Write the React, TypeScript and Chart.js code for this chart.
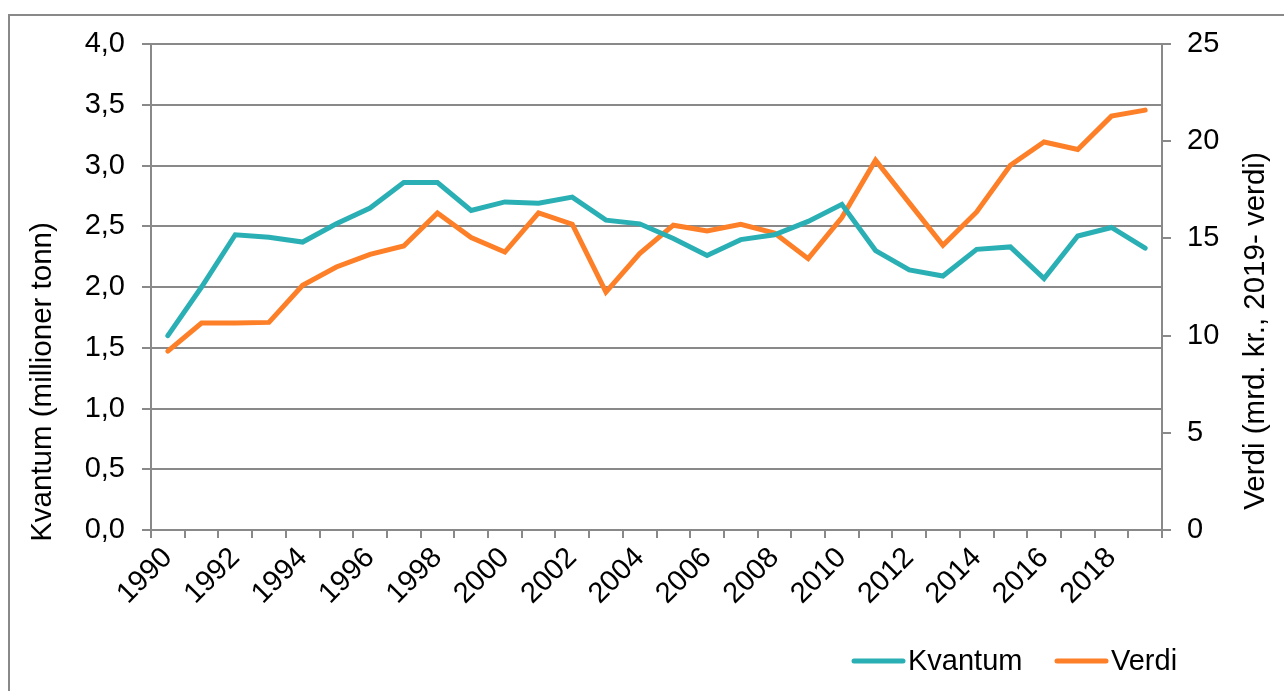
import React, { useEffect, useRef } from "react";
import { Chart, registerables } from "chart.js";

Chart.register(...registerables);

const years = [
  "1990", "1991", "1992", "1993", "1994", "1995", "1996", "1997", "1998", "1999",
  "2000", "2001", "2002", "2003", "2004", "2005", "2006", "2007", "2008", "2009",
  "2010", "2011", "2012", "2013", "2014", "2015", "2016", "2017", "2018", "2019",
];

const kvantum = [
  1.6, 2.0, 2.43, 2.41, 2.37, 2.52, 2.65, 2.86, 2.86, 2.63,
  2.7, 2.69, 2.74, 2.55, 2.52, 2.4, 2.26, 2.39, 2.43, 2.54,
  2.68, 2.3, 2.14, 2.09, 2.31, 2.33, 2.07, 2.42, 2.49, 2.32,
];

const verdi = [
  9.2, 10.65, 10.65, 10.68, 12.59, 13.53, 14.18, 14.61, 16.31, 15.04,
  14.3, 16.31, 15.73, 12.24, 14.22, 15.68, 15.38, 15.73, 15.28, 13.96,
  16.07, 19.02, 16.83, 14.65, 16.36, 18.76, 19.96, 19.57, 21.29, 21.6,
];

const leftTitle = "Kvantum (millioner tonn)";
const rightTitle = "Verdi (mrd. kr., 2019- verdi)";

const TEAL = "#2AB0B4";
const ORANGE = "#FD7F27";
const GRAY = "#898989";
const FONT = "'Liberation Sans', Arial, sans-serif";

const decorPlugin = {
  id: "decor",
  beforeDraw(chart: any) {
    const ctx = chart.ctx;
    ctx.save();
    ctx.strokeStyle = GRAY;
    ctx.lineWidth = 2;
    ctx.strokeRect(9, 15, 1400, 800);
    ctx.restore();
  },
  afterDraw(chart: any) {
    const ctx = chart.ctx;
    ctx.save();
    ctx.fillStyle = "#000";
    ctx.font = `29.5px ${FONT}`;
    ctx.textAlign = "center";
    ctx.textBaseline = "middle";
    // left title
    ctx.save();
    ctx.translate(43, 382);
    ctx.rotate(-Math.PI / 2);
    ctx.fillText(leftTitle, 0, 0);
    ctx.restore();
    // right title
    ctx.save();
    ctx.translate(1256, 331);
    ctx.rotate(-Math.PI / 2);
    ctx.fillText(rightTitle, 0, 0);
    ctx.restore();

    // legend
    ctx.font = `29px ${FONT}`;
    ctx.textAlign = "left";
    const ly = 661;
    const items = [
      { x: 852, tx: 908 },
      { x: 1055, tx: 1111 },
    ];
    chart.data.datasets.forEach((ds: any, i: number) => {
      const it = items[i];
      ctx.strokeStyle = ds.borderColor;
      ctx.lineWidth = 5;
      ctx.lineCap = "round";
      ctx.beginPath();
      ctx.moveTo(it.x + 2, ly);
      ctx.lineTo(it.x + 51, ly);
      ctx.stroke();
      ctx.fillStyle = "#000";
      ctx.fillText(ds.label, it.tx, ly + 1);
    });
    ctx.restore();
  },
};

export default function App() {
  const ref = useRef<HTMLCanvasElement | null>(null);

  useEffect(() => {
    if (!ref.current) return;
    const chart = new Chart(ref.current, {
      type: "line",
      data: {
        labels: years,
        datasets: [
          {
            label: "Kvantum",
            data: kvantum,
            yAxisID: "y",
            borderColor: TEAL,
            backgroundColor: TEAL,
            borderWidth: 5,
            borderCapStyle: "round",
            pointRadius: 0,
            tension: 0,
          },
          {
            label: "Verdi",
            data: verdi,
            yAxisID: "y1",
            borderColor: ORANGE,
            backgroundColor: ORANGE,
            borderWidth: 5,
            borderCapStyle: "round",
            pointRadius: 0,
            tension: 0,
          },
        ],
      },
      options: {
        responsive: false,
        animation: false,
        layout: { padding: { left: 0, right: 0, top: 44, bottom: 0 } },
        plugins: {
          legend: { display: false },
          tooltip: { enabled: false },
        },
        scales: {
          x: {
            type: "category",
            offset: true,
            grid: {
              offset: true,
              drawOnChartArea: false,
              drawTicks: true,
              tickLength: 8,
              color: GRAY,
              lineWidth: 2,
            },
            border: { display: true, color: GRAY, width: 2 },
            ticks: {
              autoSkip: false,
              minRotation: 45,
              maxRotation: 45,
              padding: 3,
              color: "#000",
              font: { family: FONT, size: 29 },
              callback: (_v: any, i: number) => (i % 2 === 0 ? years[i] : ""),
            },
            afterFit: (s: any) => {
              s.height = 161;
            },
          },
          y: {
            position: "left",
            min: 0,
            max: 4,
            grid: {
              color: GRAY,
              lineWidth: 2,
              tickLength: 9,
            },
            border: { display: true, color: GRAY, width: 2 },
            ticks: {
              stepSize: 0.5,
              padding: 17,
              color: "#000",
              font: { family: FONT, size: 29 },
              callback: (v: any) => Number(v).toFixed(1).replace(".", ","),
            },
            afterFit: (s: any) => {
              s.width = 151;
            },
          },
          y1: {
            position: "right",
            min: 0,
            max: 25,
            grid: {
              drawOnChartArea: false,
              color: GRAY,
              lineWidth: 2,
              tickLength: 9,
            },
            border: { display: true, color: GRAY, width: 2 },
            ticks: {
              stepSize: 5,
              padding: 16,
              color: "#000",
              font: { family: FONT, size: 29 },
            },
            afterFit: (s: any) => {
              s.width = 122;
            },
          },
        },
      },
      plugins: [decorPlugin],
    });
    return () => chart.destroy();
  }, []);

  return (
    <div style={{ position: "absolute", left: 0, top: 0, width: 1284, height: 691, overflow: "hidden", background: "#fff" }}>
      <canvas ref={ref} width={1284} height={691} style={{ display: "block" }} />
    </div>
  );
}
